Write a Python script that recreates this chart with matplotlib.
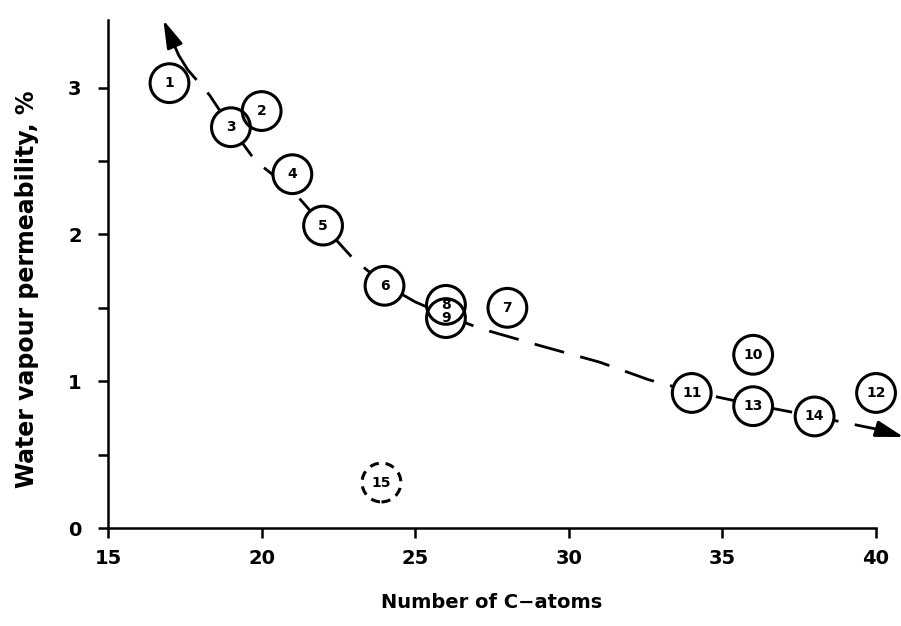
import matplotlib
matplotlib.use("Agg")
import matplotlib.pyplot as plt

plt.rcParams['font.family'] = ['DejaVu Sans']
plt.rcParams['font.weight'] = 'bold'

# Data points (number of C-atoms, water vapour permeability %)
labels = ["1", "2", "3", "4", "5", "6", "7", "8", "9", "10", "11", "12", "13", "14", "15"]
x_vals = [17, 20, 19, 21, 22, 24, 28, 26, 26, 36, 34, 40, 36, 38, 23.9]
y_vals = [3.03, 2.84, 2.73, 2.41, 2.06, 1.65, 1.50, 1.52, 1.43, 1.18, 0.92, 0.92, 0.83, 0.76, 0.31]
dashed_circle = [False] * 14 + [True]

# Trend curve
curve_x = [17.3, 17.6, 18.3, 19.0, 19.8, 21.0, 22.0, 23.0, 24.0, 25.0, 26.0, 27.1, 29.1, 31.0, 32.6, 34.0, 36.0, 38.0, 40.1]
curve_y = [3.22, 3.12, 2.95, 2.73, 2.50, 2.30, 2.06, 1.83, 1.66, 1.54, 1.45, 1.36, 1.24, 1.13, 1.01, 0.93, 0.84, 0.76, 0.67]
arrow_start_tip = (16.8, 3.46)
arrow_end_tip = (40.9, 0.62)

fig = plt.figure(figsize=(9.01, 6.26), dpi=100)
ax = fig.add_axes([0.1199, 0.1565, 0.8524, 0.8115])
ax.set_xlim(15, 40)
ax.set_ylim(0, 3.46)

ax.plot(curve_x, curve_y, color='black', lw=2.0, dashes=(11, 6), zorder=1, clip_on=False)
for tip, base in [(arrow_start_tip, (curve_x[0], curve_y[0])), (arrow_end_tip, (curve_x[-1], curve_y[-1]))]:
    ax.annotate("", xy=tip, xytext=base,
                arrowprops=dict(arrowstyle='-|>,head_length=1.7,head_width=0.5', color='black', lw=2,
                                shrinkA=0, shrinkB=0), annotation_clip=False)

# white fills first, then edges so overlapping circles show both outlines
ax.scatter(x_vals, y_vals, s=780, facecolors='white', edgecolors='none', zorder=2, clip_on=False)
for xv, yv, lab, dsh in zip(x_vals, y_vals, labels, dashed_circle):
    ax.scatter([xv], [yv], s=780, facecolors='none', edgecolors='black',
               linewidths=2.2, linestyles=(0, (3, 2.2)) if dsh else '-', zorder=3, clip_on=False)
    ax.text(xv, yv, lab, ha='center', va='center', fontsize=10, fontweight='bold', zorder=4)

for s in ['top', 'right']:
    ax.spines[s].set_visible(False)
for s in ['left', 'bottom']:
    ax.spines[s].set_linewidth(1.8)

ax.set_xticks([15, 20, 25, 30, 35, 40])
ax.set_yticks([0, 1, 2, 3])
ax.set_yticks([0.5, 1.5, 2.5], minor=True)
ax.tick_params(axis='both', which='both', direction='out', width=1.8, length=7, labelsize=14)
ax.tick_params(axis='x', pad=8)
ax.tick_params(axis='y', pad=12)
for t in ax.get_xticklabels() + ax.get_yticklabels():
    t.set_fontweight('bold')

ax.set_xlabel("Number of C\u2212atoms", fontsize=14, fontweight='bold', labelpad=18)
ax.set_ylabel("Water vapour permeability, %", fontsize=17, fontweight='bold')
ax.yaxis.set_label_coords(-0.09, 0.47)

fig.savefig("out.png", dpi=100)
